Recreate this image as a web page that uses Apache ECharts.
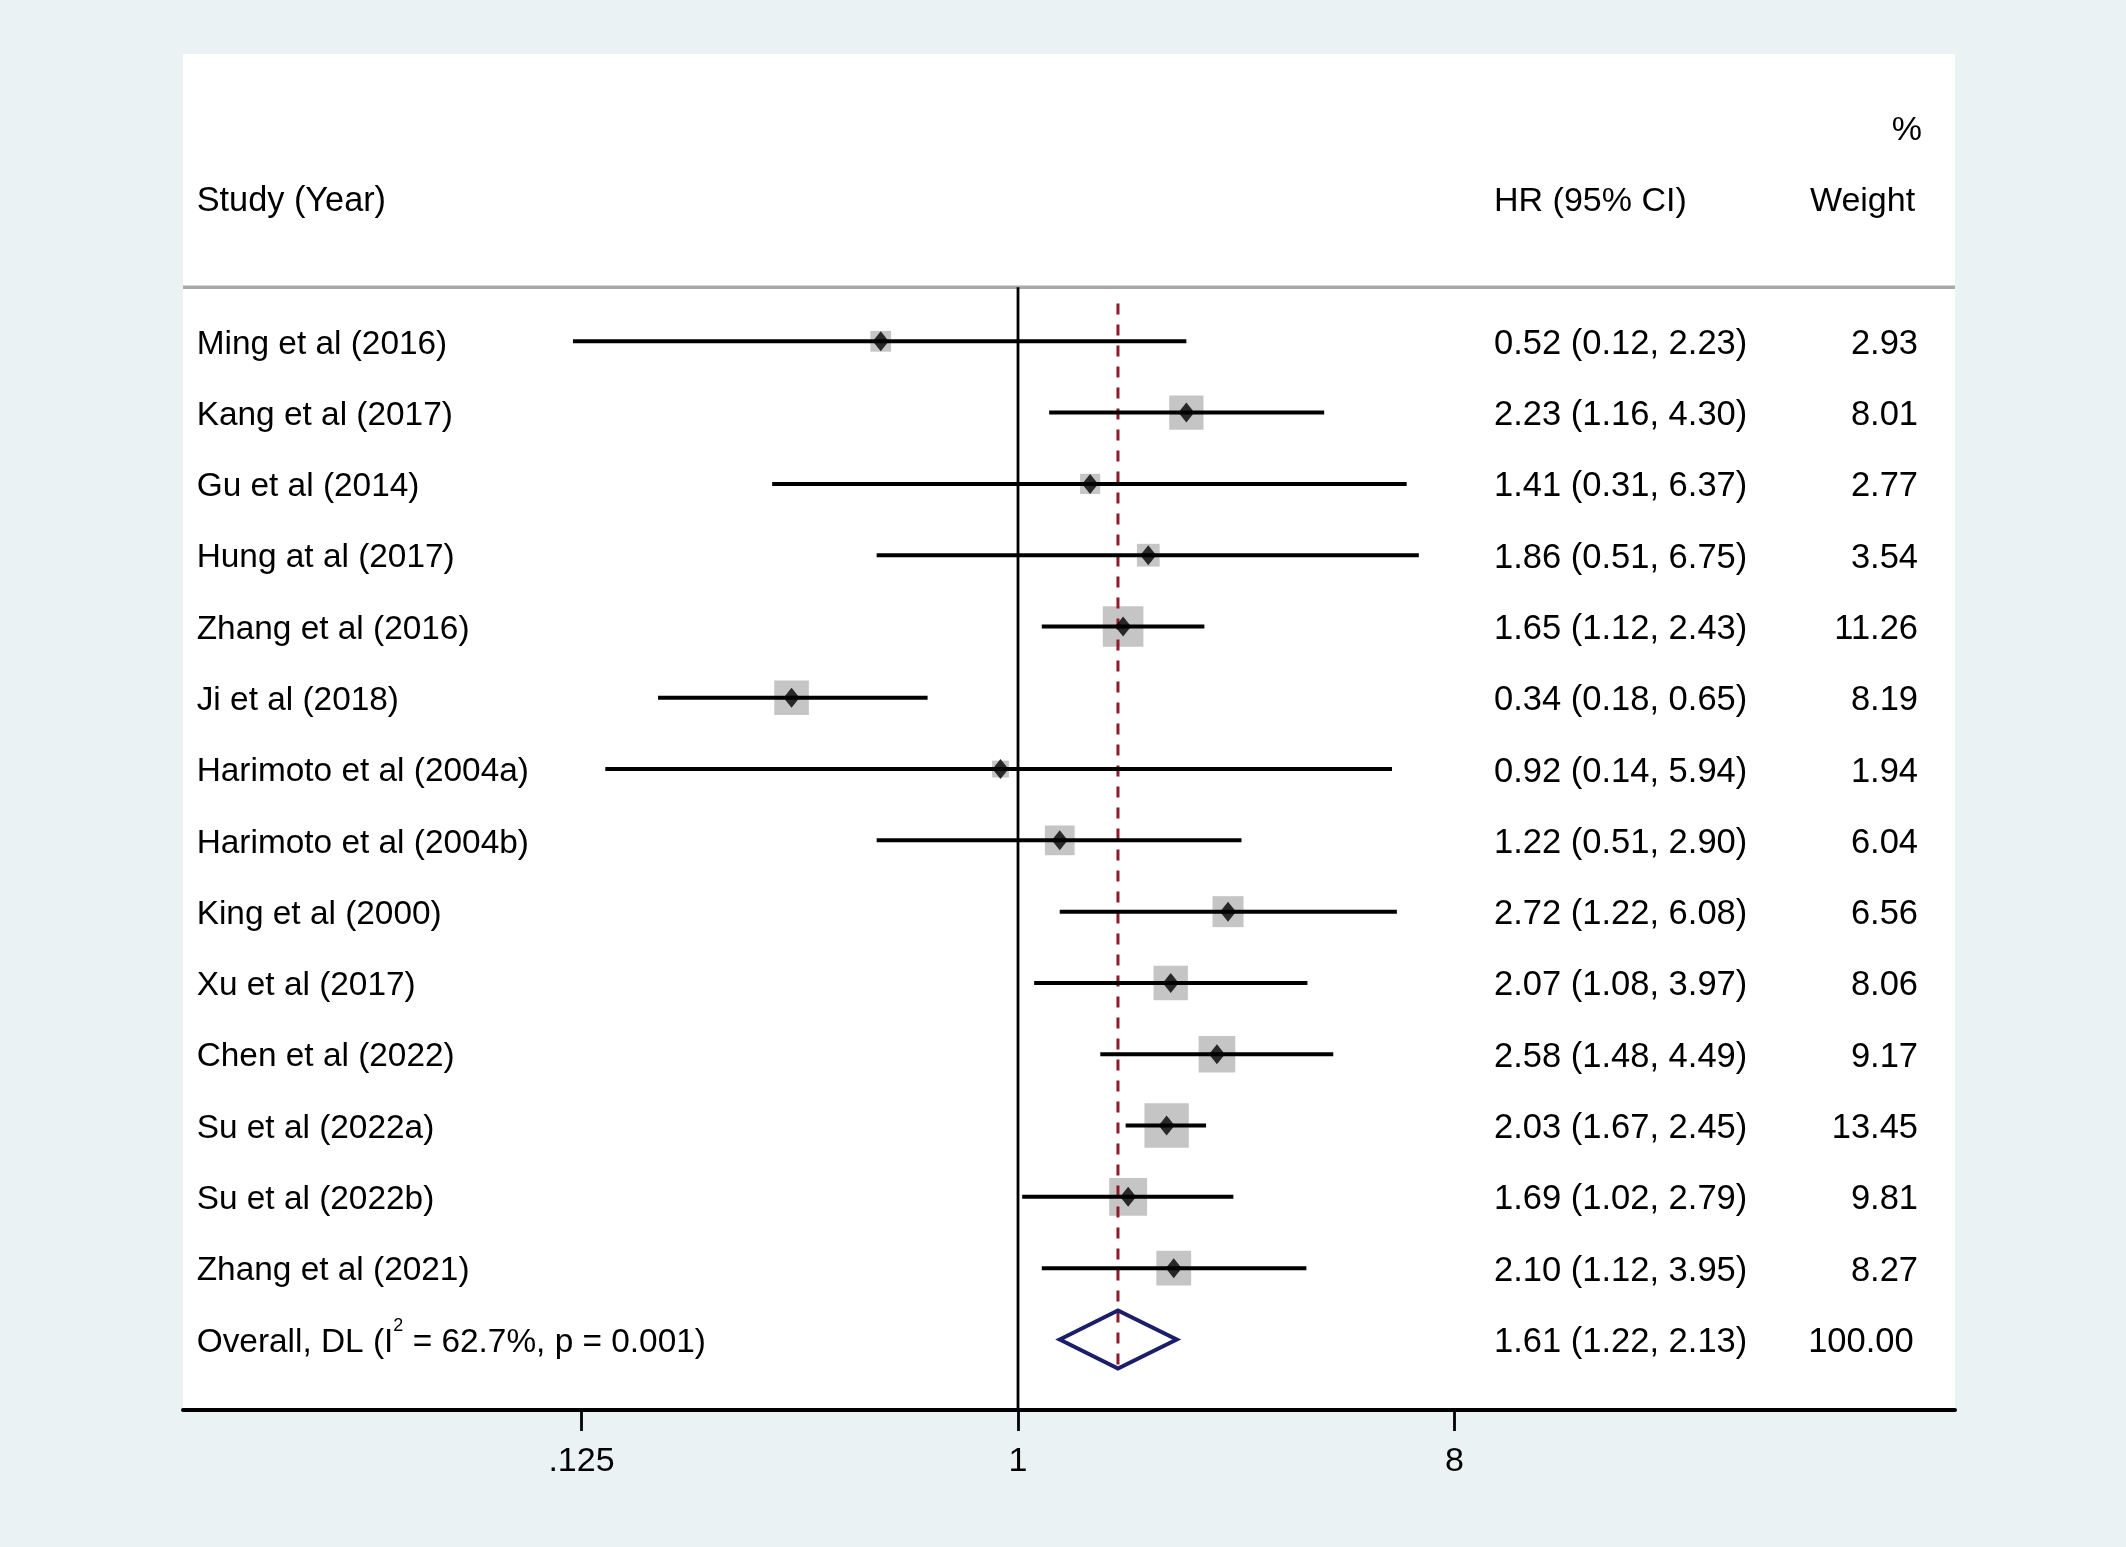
<!DOCTYPE html>
<html><head><meta charset="utf-8">
<script src="https://cdn.jsdelivr.net/npm/echarts@6/dist/echarts.min.js"></script>
<style>html,body{margin:0;padding:0;background:#eaf2f3}#c{width:2126px;height:1547px}</style>
</head><body><div id="c"></div>
<script>
// ---- data ----
const studies = ['Ming et al (2016)', 'Kang et al (2017)', 'Gu et al (2014)', 'Hung at al (2017)', 'Zhang et al (2016)', 'Ji et al (2018)', 'Harimoto et al (2004a)', 'Harimoto et al (2004b)', 'King et al (2000)', 'Xu et al (2017)', 'Chen et al (2022)', 'Su et al (2022a)', 'Su et al (2022b)', 'Zhang et al (2021)'];
const hr      = [0.52, 2.23, 1.41, 1.86, 1.65, 0.34, 0.92, 1.22, 2.72, 2.07, 2.58, 2.03, 1.69, 2.10];
const lower   = [0.12, 1.16, 0.31, 0.51, 1.12, 0.18, 0.14, 0.51, 1.22, 1.08, 1.48, 1.67, 1.02, 1.12];
const upper   = [2.23, 4.30, 6.37, 6.75, 2.43, 0.65, 5.94, 2.90, 6.08, 3.97, 4.49, 2.45, 2.79, 3.95];
const weights = [2.93, 8.01, 2.77, 3.54, 11.26, 8.19, 1.94, 6.04, 6.56, 8.06, 9.17, 13.45, 9.81, 8.27];
const overallHR = [1.61];
const overallLower = [1.22];
const overallUpper = [2.13];
const overallWeight = [100.00];
const overallI2 = '62.7%';
const overallP = '0.001';
const tickValues = [0.125, 1, 8];
const tickLabels = ['.125', '1', '8'];
const headerTexts = ['Study (Year)', 'HR (95% CI)', 'Weight', '%'];

// ---- layout constants (log2 units on x, row units on y) ----
const X_MIN = -5.739, X_MAX = 6.44;
const Y_MIN = -4.03, Y_MAX = 14.99;
const STUDY_X = -5.645, HR_X = 3.272, WT_X = 6.186, PCT_X = 6.213;
const HEADER_ROW = -2, PCT_ROW = -3, SEP_ROW = -0.76, DASH_TOP = -0.53, DASH_BOT = 14.47;
const FONT = '"Liberation Sans", Arial, sans-serif';
const FS = 34, FS_STUDY = 33.4, FS_NUM = 34.5;
const TEXT_DY = 3;

const L = v => Math.log2(v);
const fmt = v => v.toFixed(2);
const n = studies.length;
const overallRow = n;

// text items
const texts = [];
texts.push({x: STUDY_X, y: HEADER_ROW, t: headerTexts[0], a: 'left', f: FS + 0.3});
texts.push({x: HR_X, y: HEADER_ROW, t: headerTexts[1], a: 'left', f: FS});
texts.push({x: WT_X - 0.02, y: HEADER_ROW, t: headerTexts[2], a: 'right', f: FS});
texts.push({x: PCT_X, y: PCT_ROW, t: headerTexts[3], a: 'right', f: FS});
studies.forEach((s, i) => {
  texts.push({x: STUDY_X, y: i, t: s, a: 'left', f: FS_STUDY});
  texts.push({x: HR_X, y: i, t: fmt(hr[i]) + ' (' + fmt(lower[i]) + ', ' + fmt(upper[i]) + ')', a: 'left', f: FS_NUM});
  texts.push({x: WT_X, y: i, t: fmt(weights[i]), a: 'right', f: FS_NUM});
});
texts.push({x: STUDY_X, y: overallRow, t: 'Overall, DL (I{sup|2} = ' + overallI2 + ', p = ' + overallP + ')', a: 'left', f: FS_STUDY});
texts.push({x: HR_X, y: overallRow, t: fmt(overallHR[0]) + ' (' + fmt(overallLower[0]) + ', ' + fmt(overallUpper[0]) + ')', a: 'left', f: FS_NUM});
texts.push({x: WT_X - 0.03, y: overallRow, t: fmt(overallWeight[0]), a: 'right', f: FS_NUM});

const chart = echarts.init(document.getElementById('c'));
chart.setOption({
  backgroundColor: '#eaf2f3',
  animation: false,
  grid: {left: 183, right: 171, top: 54, bottom: 137, show: true, backgroundColor: '#ffffff', borderWidth: 0},
  xAxis: {
    type: 'value', min: X_MIN, max: X_MAX,
    axisLine: {show: true, onZero: false, lineStyle: {color: '#000', width: 4}},
    axisTick: {show: true, customValues: tickValues.map(L), length: 21, lineStyle: {color: '#000', width: 2.8}},
    axisLabel: {show: true, customValues: tickValues.map(L), margin: 35, color: '#000', fontSize: FS, fontFamily: FONT,
      formatter: v => { const k = tickValues.findIndex(t => Math.abs(L(t) - v) < 1e-6); return k >= 0 ? tickLabels[k] : ''; }},
    splitLine: {show: false}
  },
  yAxis: {type: 'value', inverse: true, min: Y_MIN, max: Y_MAX, show: false},
  series: [
    { // header separator
      type: 'line', data: [[X_MIN, SEP_ROW], [X_MAX, SEP_ROW]], symbol: 'none', z: 1,
      lineStyle: {color: '#a9a9a9', width: 3.5}
    },
    { // boxes
      type: 'scatter', z: 2, symbol: 'rect',
      data: hr.map((v, i) => [L(v), i, weights[i]]),
      symbolSize: d => 12.1 * Math.sqrt(d[2]),
      itemStyle: {color: '#b7b7b7'}
    },
    { // null line
      type: 'line', z: 3, data: [[L(1), SEP_ROW], [L(1), Y_MAX]], symbol: 'none',
      lineStyle: {color: '#000', width: 2.8}
    },
    { // overall dashed line
      type: 'line', z: 3, data: [[L(overallHR[0]), DASH_TOP], [L(overallHR[0]), DASH_BOT]], symbol: 'none',
      lineStyle: {color: '#8e1b2b', width: 3, type: [11, 10]}
    },
    { // CI lines
      type: 'custom', z: 4,
      data: hr.map((v, i) => [L(lower[i]), L(upper[i]), i]),
      renderItem: (params, api) => {
        const a = api.coord([api.value(0), api.value(2)]);
        const b = api.coord([api.value(1), api.value(2)]);
        return {type: 'line', shape: {x1: a[0], y1: a[1], x2: b[0], y2: b[1]}, style: {stroke: '#000', lineWidth: 4}};
      }
    },
    { // point markers
      type: 'scatter', z: 5, symbol: 'diamond', symbolSize: [16, 20],
      data: hr.map((v, i) => [L(v), i]),
      itemStyle: {color: '#000'}
    },
    { // overall diamond
      type: 'custom', z: 5,
      data: [[L(overallLower[0]), L(overallHR[0]), L(overallUpper[0]), overallRow]],
      renderItem: (params, api) => {
        const r = api.value(3);
        const a = api.coord([api.value(0), r]);
        const c = api.coord([api.value(1), r]);
        const b = api.coord([api.value(2), r]);
        const h = 29;
        return {type: 'polygon', shape: {points: [[a[0], a[1]], [c[0], c[1] - h], [b[0], b[1]], [c[0], c[1] + h]]},
          style: {fill: 'none', stroke: '#1b1f6b', lineWidth: 4}};
      }
    },
    { // texts
      type: 'custom', z: 6,
      data: texts.map(t => [t.x, t.y]),
      renderItem: (params, api) => {
        const t = texts[params.dataIndex];
        const p = api.coord([api.value(0), api.value(1)]);
        return {type: 'text', x: p[0], y: p[1] + TEXT_DY, style: {
          text: t.t, fill: '#000', fontSize: t.f, fontFamily: FONT,
          align: t.a, textAlign: t.a, verticalAlign: 'middle', textVerticalAlign: 'middle',
          rich: {sup: {fontSize: 18, fontFamily: FONT, fill: '#000', padding: [0, 0, 32, 0]}}
        }};
      }
    }
  ]
});
</script></body></html>
